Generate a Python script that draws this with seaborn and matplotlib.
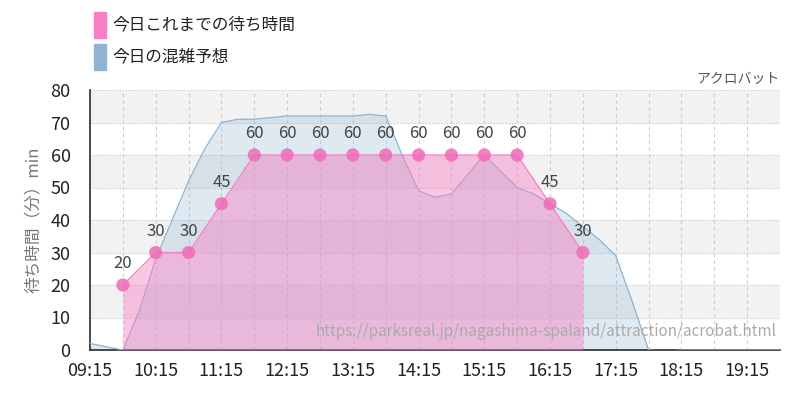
import matplotlib
matplotlib.use("Agg")
import matplotlib.pyplot as plt
import seaborn as sns
import numpy as np
import pandas as pd

sns.set_theme(style="white")
plt.rcParams['font.family'] = ['Noto Sans CJK JP', 'DejaVu Sans']

# minutes after 09:15
today_min = [30, 60, 90, 120, 150, 180, 210, 240, 270, 300, 330, 360, 390, 420, 450]
today_val = [20, 30, 30, 45, 60, 60, 60, 60, 60, 60, 60, 60, 60, 45, 30]
pred_min = list(range(0, 645, 15))
pred_val = [2, 1, 0, 12, 28, 40, 52, 62, 70, 71, 71, 71.5, 72, 72, 72, 72, 72, 72.5, 72,
            60, 49, 47, 48, 54, 60, 55, 50, 48, 45, 42, 38, 34, 29, 15, 0, -0.5, 0, 0, 0,
            0, 0, 0, 0]
xtick_labels = ["09:15", "10:15", "11:15", "12:15", "13:15", "14:15", "15:15",
                "16:15", "17:15", "18:15", "19:15"]

pink = "#f77fc4"
blue = "#8fb3d0"

fig = plt.figure(figsize=(8, 4), dpi=100)
ax = fig.add_axes([0.1125, 0.125, 0.8625, 0.65])
ax.set_xlim(0, 630)
ax.set_ylim(0, 80)

for y0 in [10, 30, 50, 70]:
    ax.axhspan(y0, y0 + 10, color="#f2f2f2", zorder=0)
for y in range(10, 90, 10):
    ax.axhline(y, color="#cccccc", lw=0.8, ls=":", zorder=1)
for x in range(30, 630, 30):
    ax.axvline(x, color="#cccccc", lw=0.8, ls=(0, (3, 3)), zorder=1)

pdf = pd.DataFrame({"t": pred_min, "v": pred_val})
tdf = pd.DataFrame({"t": today_min, "v": today_val})

ax.fill_between(pdf.t, pdf.v, color=blue, alpha=0.28, lw=0, zorder=2)
sns.lineplot(data=pdf, x="t", y="v", ax=ax, color=blue, lw=0.9, zorder=3)
ax.fill_between(tdf.t, tdf.v, color=pink, alpha=0.45, lw=0, zorder=4)
sns.lineplot(data=tdf, x="t", y="v", ax=ax, color=pink, lw=0.9, zorder=5)
sns.scatterplot(data=tdf, x="t", y="v", ax=ax, color="#f06bb8", s=90, alpha=0.85,
                edgecolor="none", zorder=6)
for t, v in zip(today_min, today_val):
    ax.text(t, v + 4, str(v), ha="center", va="bottom", fontsize=12, color="#444444", zorder=7)

ax.set_xticks(range(0, 630, 60))
ax.set_xticklabels(xtick_labels, fontsize=13, color="#222222")
ax.set_yticks(range(0, 90, 10))
ax.tick_params(axis="y", labelsize=13, colors="#222222", length=0, pad=14)
ax.tick_params(axis="x", length=5, color="#999999")
ax.set_xlabel("")
ax.set_ylabel("待ち時間（分）min", fontsize=12, color="#777777", labelpad=6)
for s in ["top", "right"]:
    ax.spines[s].set_visible(False)
ax.spines["left"].set_color("#333333")
ax.spines["bottom"].set_color("#333333")

ax.text(1.0, 1.015, "アクロバット", transform=ax.transAxes, ha="right", va="bottom",
        fontsize=10, color="#555555")
ax.text(0.995, 0.04, "https://parksreal.jp/nagashima-spaland/attraction/acrobat.html",
        transform=ax.transAxes, ha="right", va="bottom", fontsize=11, color="#aaaaaa", zorder=8)

fig.patches.append(plt.Rectangle((0.118, 0.905), 0.014, 0.065, transform=fig.transFigure,
                                 color=pink, figure=fig))
fig.patches.append(plt.Rectangle((0.118, 0.825), 0.014, 0.065, transform=fig.transFigure,
                                 color=blue, figure=fig))
fig.text(0.14, 0.937, "今日これまでの待ち時間", fontsize=12, va="center", color="#222222")
fig.text(0.14, 0.857, "今日の混雑予想", fontsize=12, va="center", color="#222222")

fig.savefig("out.png", dpi=100)
